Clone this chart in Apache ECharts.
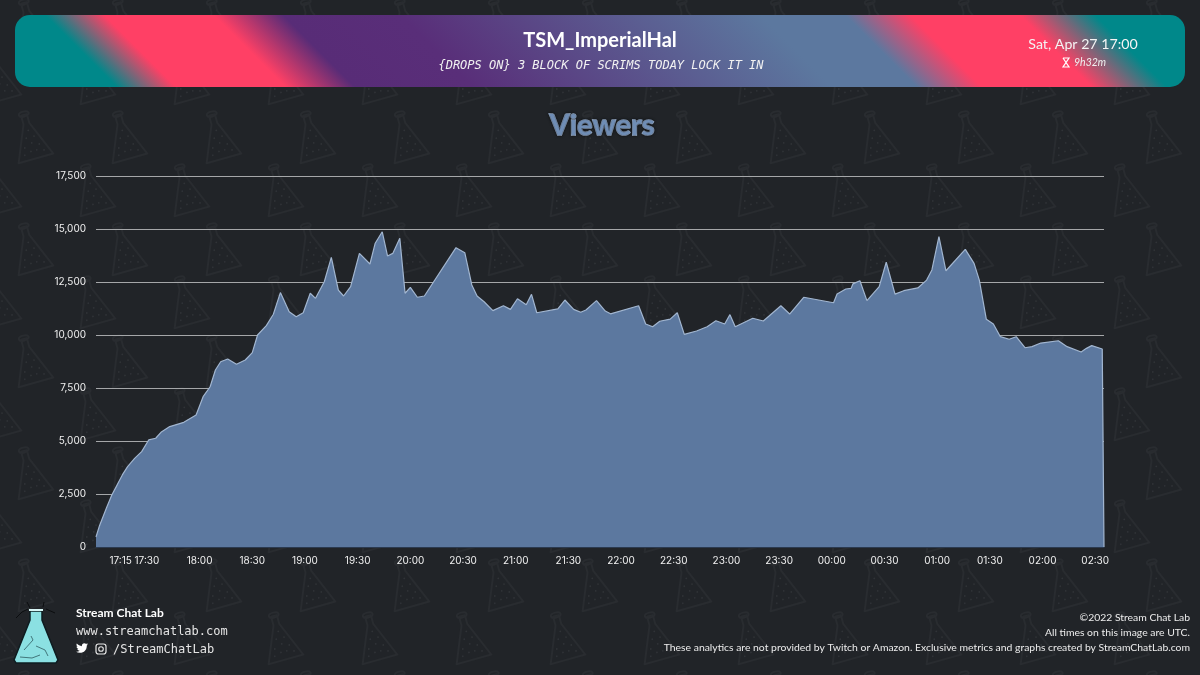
<!DOCTYPE html>
<html><head><meta charset="utf-8">
<style>html,body{margin:0;padding:0;background:#212428}#c{width:1200px;height:675px}</style>
<script src="https://cdn.jsdelivr.net/npm/echarts@6/dist/echarts.min.js"></script>
</head><body><div id="c"></div>
<script>
const streamer = 'TSM_ImperialHal';
const streamTitle = '{DROPS ON} 3 BLOCK OF SCRIMS TODAY LOCK IT IN';
const streamDate = 'Sat, Apr 27 17:00';
const streamLength = '9h32m';
const chartTitle = 'Viewers';
const yTicks = [0, 2500, 5000, 7500, 10000, 12500, 15000, 17500];
const xTickMinutes = [15, 30, 60, 90, 120, 150, 180, 210, 240, 270, 300, 330, 360, 390, 420, 450, 480, 510, 540, 570];
const xTickLabels = ['17:15','17:30','18:00','18:30','19:00','19:30','20:00','20:30','21:00','21:30','22:00','22:30','23:00','23:30','00:00','00:30','01:00','01:30','02:00','02:30'];
// minutes after 17:00 UTC
const minutes = [1,3,5,7,10,13,16,19,23,27,31,35,38,43,51,58,62,66,69,72,76,81,86,90,93,98,102,106,111,115,119,123,126,131,135,139,142,146,151,157,160,164,167,170,174,177,180,184,188,206,211,215,218,222,227,233,237,241,246,249,252,264,268,273,277,280,286,291,294,310,314,318,322,328,332,336,343,349,354,359,362,365,375,381,391,396,404,421,423,428,431,432,436,440,447,451,456,461,469,474,477,481,485,496,501,504,508,512,516,521,525,530,534,539,549,554,562,565,568,574,575];
const viewers = [470,1005,1430,1850,2450,2920,3400,3790,4180,4500,5050,5130,5410,5680,5880,6230,7090,7560,8350,8740,8870,8620,8820,9170,10000,10440,10980,12000,11100,10860,11050,11970,11730,12510,13660,12120,11840,12280,13850,13350,14330,14870,13730,13850,14560,11970,12250,11780,11840,14120,13880,12360,11840,11570,11150,11380,11210,11710,11430,11920,11050,11230,11650,11210,11070,11180,11620,11130,11000,11380,10520,10390,10650,10750,11050,10030,10190,10390,10670,10520,10960,10390,10790,10660,11380,10990,11780,11520,11930,12170,12200,12410,12560,11620,12280,13430,11930,12090,12220,12590,13070,14640,13030,14040,13380,12590,10740,10520,9920,9800,9920,9400,9450,9620,9730,9450,9200,9370,9500,9340,0];
const footerLeft = ['Stream Chat Lab','www.streamchatlab.com','/StreamChatLab'];
const footerRight = ['©2022 Stream Chat Lab','All times on this image are UTC.','These analytics are not provided by Twitch or Amazon. Exclusive metrics and graphs created by StreamChatLab.com'];

const TW = 'M459.37 151.716c.325 4.548.325 9.097.325 13.645 0 138.72-105.583 298.558-298.558 298.558-59.452 0-114.68-17.219-161.137-47.106 8.447.974 16.568 1.299 25.34 1.299 49.055 0 94.213-16.568 130.274-44.832-46.132-.975-84.792-31.188-98.112-72.772 6.498.974 12.995 1.624 19.818 1.624 9.421 0 18.843-1.3 27.614-3.573-48.081-9.747-84.143-51.98-84.143-102.985v-1.299c13.969 7.797 30.214 12.67 47.431 13.319-28.264-18.843-46.781-51.005-46.781-87.391 0-19.492 5.197-37.36 14.294-52.954 51.655 63.675 129.3 105.258 216.365 109.807-1.624-7.797-2.599-15.918-2.599-24.04 0-57.828 46.782-104.934 104.934-104.934 30.213 0 57.502 12.67 76.67 33.137 23.715-4.548 46.456-13.32 66.599-25.34-7.798 24.366-24.366 44.833-46.132 57.827 21.117-2.273 41.584-8.122 60.426-16.243-14.292 20.791-32.161 39.308-52.628 54.253z';
echarts.graphic.registerShape('twitterBird', echarts.graphic.extendPath(TW, {}));

// watermark tile
function makeTile(){
  const W=94,H=112,c=document.createElement('canvas');c.width=W;c.height=H;
  const g=c.getContext('2d');g.fillStyle='#212428';g.fillRect(0,0,W,H);
  function flask(x,y){
    g.save();g.translate(x,y);g.rotate(-0.27);
    g.strokeStyle='#292c30';g.lineWidth=2;g.lineJoin='round';
    g.beginPath();g.moveTo(-3,0);g.lineTo(3,0);g.lineTo(3,9);g.lineTo(18,45);g.lineTo(-18,45);g.lineTo(-3,9);g.closePath();g.stroke();
    g.beginPath();g.ellipse(0,-1,5,2.5,0,0,Math.PI*2);g.stroke();
    g.fillStyle='#303337';
    [[0,16],[-4,23],[4,23],[0,29],[-8,32],[7,32],[-3,37],[3,37],[10,39],[-10,39]].forEach(p=>{g.beginPath();g.arc(p[0],p[1],.9,0,7);g.fill();});
    g.restore();
  }
  [[24,3],[24+W,3],[24-W,3],[86,56],[86-W,56],[24,3+H],[24+W,3+H]].forEach(p=>flask(p[0],p[1]));
  return c;
}

const chart = echarts.init(document.getElementById('c'),null,{renderer:'canvas',width:1200,height:675});
const UI='Lato', MONO='"DejaVu Sans Mono"';
function txt(x,y,text,font,fill,align,extra){
  return {type:'text',x:x,y:y,z:10,silent:true,style:Object.assign({text:text,font:font,fill:fill,align:align||'left',verticalAlign:'middle'},extra||{})};
}
const t=s=>(s+57)/1242;
const banner={type:'rect',z:1,silent:true,shape:{x:15,y:15,width:1170,height:72,r:15},style:{fill:new echarts.graphic.LinearGradient(15,87,636,-534,[
  {offset:t(45),color:'#00888a'},{offset:t(104),color:'#ff4065'},{offset:t(214),color:'#ff4065'},{offset:t(283),color:'#582c77'},
  {offset:t(400),color:'#592e79'},{offset:t(760),color:'#5c789f'},{offset:t(845),color:'#5c789f'},{offset:t(910),color:'#ff4065'},
  {offset:t(1020),color:'#ff4065'},{offset:t(1095),color:'#00888a'}],true)}};

const logo={type:'group',x:117,y:51,z:5,silent:true,children:[
  {type:'circle',shape:{r:26},style:{fill:new echarts.graphic.RadialGradient(.5,.5,.5,[{offset:0,color:'#4a0a10'},{offset:.75,color:'#2a0507'},{offset:.9,color:'#6a1015'},{offset:1,color:'#1d0a0a'}])}},
  {type:'circle',shape:{r:20},style:{fill:'#1a0406',stroke:'#9c1c22',lineWidth:1.2}},
  {type:'polyline',shape:{points:[[-14,14],[-14,-8],[-6,-15],[-6,15]]},style:{fill:'none',stroke:'#b0181f',lineWidth:1.2}},
  {type:'polyline',shape:{points:[[-14,4],[-6,4]]},style:{fill:'none',stroke:'#b0181f',lineWidth:1.2}},
  {type:'polyline',shape:{points:[[1,15],[1,-14],[7,-6],[13,-14],[13,13]]},style:{fill:'none',stroke:'#b0181f',lineWidth:1.2}}
]};

const flask={type:'group',z:5,silent:true,children:[
  {type:'polygon',shape:{points:[[30,611],[42,611],[42,620],[58,660],[56,663],[16,663],[14,660],[30,620]]},style:{fill:'#8be0e2',stroke:'#0e1c20',lineWidth:1.5}},
  {type:'polyline',shape:{points:[[29,610],[43,610]]},style:{stroke:'#d8f6f6',lineWidth:2}},
  {type:'polyline',shape:{points:[[28,609],[22,612],[16,618]]},style:{fill:'none',stroke:'#0b0d0f',lineWidth:1}},
  {type:'polyline',shape:{points:[[30,608],[27,602]]},style:{fill:'none',stroke:'#0b0d0f',lineWidth:1}},
  {type:'polyline',shape:{points:[[43,607],[44,602]]},style:{fill:'none',stroke:'#0b0d0f',lineWidth:1}},
  {type:'polyline',shape:{points:[[46,609],[55,613]]},style:{fill:'none',stroke:'#0b0d0f',lineWidth:1}},
  {type:'polyline',shape:{points:[[24,650],[33,640],[31,636]]},style:{fill:'none',stroke:'#2f5a60',lineWidth:.8}},
  {type:'polyline',shape:{points:[[36,646],[45,650],[48,656]]},style:{fill:'none',stroke:'#2f5a60',lineWidth:.8}},
  {type:'polyline',shape:{points:[[20,657],[32,658],[40,655]]},style:{fill:'none',stroke:'#2f5a60',lineWidth:.8}}
]};

const option={
  animation:false,
  backgroundColor:{image:makeTile(),repeat:'repeat'},
  title:{text:chartTitle,left:597,top:106,textAlign:'center',textStyle:{fontFamily:UI,fontSize:29,fontWeight:700,color:'#6f8db5',textBorderColor:'#b4cdf0',textBorderWidth:1.5,textShadowColor:'#0c0e10',textShadowBlur:3}},
  grid:{left:96,right:96,top:176,height:371,containLabel:false},
  xAxis:{type:'value',min:1,max:575,
    axisLine:{show:true,lineStyle:{color:'#2b3a50'}},axisTick:{show:false},splitLine:{show:false},
    axisLabel:{customValues:xTickMinutes,hideOverlap:false,showMinLabel:true,showMaxLabel:true,color:'#f0f0f0',fontFamily:'Inter',fontSize:10,margin:9,
      formatter:v=>xTickLabels[xTickMinutes.indexOf(v)]}},
  yAxis:{type:'value',min:yTicks[0],max:yTicks[yTicks.length-1],interval:2500,
    axisLine:{show:false},axisTick:{show:false},
    splitLine:{show:true,lineStyle:{color:'#a5a7a9',width:1}},
    axisLabel:{color:'#f0f0f0',fontFamily:'Inter',fontSize:10,margin:10,formatter:v=>v.toLocaleString('en-US')}},
  series:[{type:'line',data:minutes.map((m,i)=>[m,viewers[i]]),symbol:'none',smooth:false,clip:false,
    lineStyle:{color:'#a2b6d0',width:1.2},areaStyle:{color:'#5c789f',opacity:1},silent:true}],
  graphic:[
    banner,logo,flask,
    txt(600,41,streamer,'700 20px '+UI,'#ffffff','center'),
    txt(601,65.5,streamTitle,'italic 12px '+MONO,'#f2f2f2','center'),
    txt(1083,44,streamDate,'14.2px '+UI,'#f4f4f4','center'),
    {type:'polyline',z:10,silent:true,shape:{points:[[1063,58],[1069,58],[1063,67],[1069,67],[1063,58]]},style:{fill:'none',stroke:'#ffffff',lineWidth:1.2}},
    txt(1074,62.5,streamLength,'italic 10.5px '+UI,'#f0f0f0','left'),
    txt(76,613.5,footerLeft[0],'700 12px '+UI,'#ffffff','left'),
    txt(76,632,footerLeft[1],'12px '+MONO,'#e4e4e4','left'),
    {type:'twitterBird',z:10,silent:true,x:76,y:642,scaleX:12/512,scaleY:12/512,style:{fill:'#ffffff'}},
    {type:'rect',z:10,silent:true,shape:{x:96,y:644,width:10,height:10,r:2.5},style:{fill:'none',stroke:'#e8e8e8',lineWidth:1.2}},
    {type:'circle',z:10,silent:true,shape:{cx:101,cy:649,r:2.3},style:{fill:'none',stroke:'#e8e8e8',lineWidth:1.1}},
    txt(113,650,footerLeft[2],'12px '+MONO,'#e4e4e4','left'),
    txt(1190,618,footerRight[0],'10.4px '+UI,'#ececec','right'),
    txt(1190,633,footerRight[1],'10.4px '+UI,'#ececec','right'),
    txt(1190,648,footerRight[2],'10.4px '+UI,'#ececec','right')
  ]
};
chart.setOption(option);
</script></body></html>
